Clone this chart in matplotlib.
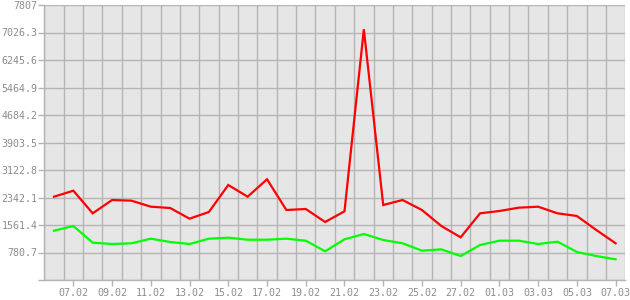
import numpy as np
import matplotlib
matplotlib.use('Agg')
import matplotlib.pyplot as plt
from matplotlib.ticker import FixedLocator

# daily values, 06.02 .. 07.03
days = ['06.02', '07.02', '08.02', '09.02', '10.02', '11.02', '12.02', '13.02',
        '14.02', '15.02', '16.02', '17.02', '18.02', '19.02', '20.02', '21.02',
        '22.02', '23.02', '24.02', '25.02', '26.02', '27.02', '28.02', '01.03',
        '02.03', '03.03', '04.03', '05.03', '06.03', '07.03']
red = [2365, 2535, 1893, 2271, 2252, 2081, 2044, 1741, 1931, 2697,
       2365, 2859, 1987, 2016, 1647, 1950, 7117, 2129, 2271, 1987,
       1533, 1212, 1893, 1959, 2053, 2081, 1893, 1817, 1420, 1042]
green = [1400, 1533, 1060, 1022, 1042, 1173, 1079, 1022, 1173, 1201,
         1144, 1144, 1173, 1116, 815, 1155, 1306, 1136, 1042, 832,
         870, 681, 994, 1116, 1116, 1022, 1088, 795, 681, 587]
y_ticks = [0, 780.7, 1561.4, 2342.1, 3122.8, 3903.5, 4684.2, 5464.9, 6245.6, 7026.3, 7807]
y_labels = ['', '780.7', '1561.4', '2342.1', '3122.8', '3903.5', '4684.2',
            '5464.9', '6245.6', '7026.3', '7807']

GRID = '#b4b4b4'
TEXT = '#8c8c8c'

fig = plt.figure(figsize=(6.3, 3.0), dpi=100)
fig.patch.set_facecolor('white')
ax = fig.add_axes([44.3 / 630, 20 / 300, (625.3 - 44.3) / 630, 275 / 300])
ax.set_facecolor('#e6e6e6')

x = np.arange(len(days))
ax.plot(x, red, color='#ff0000', lw=1.6, solid_joinstyle='miter', zorder=3)
ax.plot(x, green, color='#00ff00', lw=1.6, solid_joinstyle='miter', zorder=3)

ax.set_xlim(-0.5, len(days) - 0.5)
ax.set_ylim(0, 7807)

# labels every second day, grid between days
major = x[1::2]
ax.xaxis.set_major_locator(FixedLocator(major))
ax.set_xticklabels([days[i] for i in major])
ax.xaxis.set_minor_locator(FixedLocator(np.arange(-0.5, len(days), 1.0)))
ax.grid(False)
ax.grid(True, which='minor', axis='x', color=GRID, lw=1)

ax.set_yticks(y_ticks)
ax.set_yticklabels(y_labels)
ax.grid(True, which='major', axis='y', color=GRID, lw=1)

ax.tick_params(axis='both', which='major', length=4, width=1, color=GRID,
               labelcolor=TEXT, labelsize=7.2)
ax.tick_params(axis='x', which='minor', length=0)
ax.tick_params(axis='x', pad=2)
ax.tick_params(axis='y', pad=1)
for lab in ax.get_xticklabels() + ax.get_yticklabels():
    lab.set_family('DejaVu Sans Mono')

for side in ['top', 'right']:
    ax.spines[side].set_visible(False)
for side in ['left', 'bottom']:
    ax.spines[side].set_color(GRID)
    ax.spines[side].set_linewidth(1)

fig.savefig('out.png', dpi=100)
